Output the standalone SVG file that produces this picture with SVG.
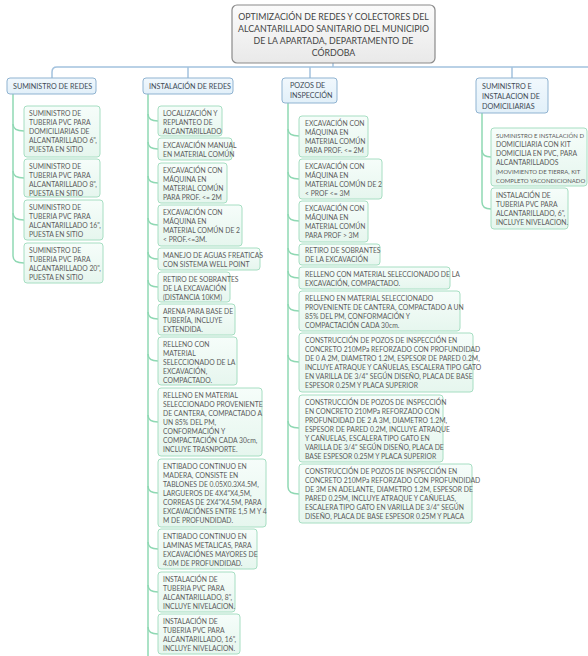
<svg xmlns="http://www.w3.org/2000/svg" width="588" height="656" viewBox="0 0 588 656">
<defs>
<linearGradient id="gRoot" x1="0" y1="0" x2="0" y2="1"><stop offset="0" stop-color="#fbfbfb"/><stop offset="1" stop-color="#e9e9e9"/></linearGradient>
<linearGradient id="gL1" x1="0" y1="0" x2="0" y2="1"><stop offset="0" stop-color="#f1f8fd"/><stop offset="1" stop-color="#e2f0f9"/></linearGradient>
<linearGradient id="gL2" x1="0" y1="0" x2="0" y2="1"><stop offset="0" stop-color="#f6fdfa"/><stop offset="1" stop-color="#e6f6ee"/></linearGradient>
</defs>
<style>
text{font-family:Lato,"Liberation Sans",sans-serif}
.root{fill:url(#gRoot);stroke:#8a8a8a;stroke-width:1.2}
.rt{font-size:8.8px;fill:#444;text-anchor:middle}
.l1{fill:url(#gL1);stroke:#8fb3d1;stroke-width:1}
.l1t{font-size:7.2px;fill:#3e4a55}
.l2{fill:url(#gL2);stroke:#a6dec2;stroke-width:1}
.l2t{font-size:6.8px;fill:#5c5c5c}
.l2s{font-size:6px;fill:#5c5c5c}
.cb{fill:none;stroke:#a3c2de;stroke-width:1.5}
.cg{fill:none;stroke:#8fd8b3;stroke-width:1.5}
</style>
<g id="connectors">
<path class="cb" d="M333,63 V67"/>
<path class="cb" d="M52,78 V72 Q52,67 57,67 H588"/>
<path class="cb" d="M188,67 V78"/>
<path class="cb" d="M310,67 V78"/>
<path class="cb" d="M512,67 V78"/>
<path class="cg" d="M13,94 V256"/>
<path class="cg" d="M13,124 Q13,131 24,131"/>
<path class="cg" d="M13,171 Q13,178 24,178"/>
<path class="cg" d="M13,213 Q13,220 24,220"/>
<path class="cg" d="M13,256 Q13,263 24,263"/>
<path class="cg" d="M148,94 V656"/>
<path class="cg" d="M148,114 Q148,121 158,121"/>
<path class="cg" d="M148,142 Q148,149 158,149"/>
<path class="cg" d="M148,176 Q148,183 158,183"/>
<path class="cg" d="M148,218 Q148,225 158,225"/>
<path class="cg" d="M148,252 Q148,259 158,259"/>
<path class="cg" d="M148,280 Q148,287 158,287"/>
<path class="cg" d="M148,312 Q148,319 158,319"/>
<path class="cg" d="M148,354 Q148,361 158,361"/>
<path class="cg" d="M148,415 Q148,422 158,422"/>
<path class="cg" d="M148,486 Q148,493 158,493"/>
<path class="cg" d="M148,542 Q148,549 158,549"/>
<path class="cg" d="M148,585 Q148,592 158,592"/>
<path class="cg" d="M148,627 Q148,634 158,634"/>
<path class="cg" d="M288,103 V487"/>
<path class="cg" d="M288,129 Q288,136 299,136"/>
<path class="cg" d="M288,172 Q288,179 299,179"/>
<path class="cg" d="M288,214 Q288,221 299,221"/>
<path class="cg" d="M288,248 Q288,255 299,255"/>
<path class="cg" d="M288,271 Q288,278 299,278"/>
<path class="cg" d="M288,304 Q288,311 299,311"/>
<path class="cg" d="M288,355 Q288,362 299,362"/>
<path class="cg" d="M288,421 Q288,428 299,428"/>
<path class="cg" d="M288,487 Q288,494 299,494"/>
<path class="cg" d="M482,113 V202"/>
<path class="cg" d="M482,150 Q482,157 491,157"/>
<path class="cg" d="M482,202 Q482,209 491,209"/>
</g>
<g id="root">
<rect class="root" x="232" y="5" width="203" height="58" rx="5"/>
<text class="rt" x="333.5" y="19.5">OPTIMIZACIÓN DE REDES Y COLECTORES DEL<tspan x="333.5" dy="12">ALCANTARILLADO SANITARIO DEL MUNICIPIO</tspan><tspan x="333.5" dy="12">DE LA APARTADA, DEPARTAMENTO DE</tspan><tspan x="333.5" dy="12">CÓRDOBA</tspan></text>
</g>
<g id="suministro-redes">
<rect class="l1" x="7" y="78" width="89" height="16" rx="3"/>
<text class="l1t" x="13" y="88.8">SUMINISTRO DE REDES</text>
</g>
<g id="instalacion-redes">
<rect class="l1" x="143" y="78" width="90" height="16" rx="3"/>
<text class="l1t" x="149" y="88.8">INSTALACIÓN DE REDES</text>
</g>
<g id="pozos">
<rect class="l1" x="282" y="78" width="55" height="25" rx="3"/>
<text class="l1t" x="290" y="88">POZOS DE<tspan x="290" dy="9.5">INSPECCIÓN</tspan></text>
</g>
<g id="domiciliarias">
<rect class="l1" x="476" y="78" width="72" height="35" rx="3"/>
<text class="l1t" x="482" y="89">SUMINISTRO E<tspan x="482" dy="10">INSTALACION DE</tspan><tspan x="482" dy="10">DOMICILIARIAS</tspan></text>
</g>
<g id="a1"><rect class="l2" x="24" y="106" width="76" height="51" rx="3"/>
<text class="l2t" x="29" y="115.5">SUMINISTRO DE<tspan x="29" dy="9">TUBERIA PVC PARA</tspan><tspan x="29" dy="9">DOMICILIARIAS DE</tspan><tspan x="29" dy="9">ALCANTARILLADO 6",</tspan><tspan x="29" dy="9">PUESTA EN SITIO</tspan></text></g>
<g id="a2"><rect class="l2" x="24" y="159" width="76" height="38" rx="3"/>
<text class="l2t" x="29" y="168.5">SUMINISTRO DE<tspan x="29" dy="9">TUBERIA PVC PARA</tspan><tspan x="29" dy="9">ALCANTARILLADO 8",</tspan><tspan x="29" dy="9">PUESTA EN SITIO</tspan></text></g>
<g id="a3"><rect class="l2" x="24" y="200" width="79" height="40" rx="3"/>
<text class="l2t" x="29" y="209.5">SUMINISTRO DE<tspan x="29" dy="9">TUBERIA PVC PARA</tspan><tspan x="29" dy="9">ALCANTARILLADO 16",</tspan><tspan x="29" dy="9">PUESTA EN SITIO</tspan></text></g>
<g id="a4"><rect class="l2" x="24" y="243" width="79" height="40" rx="3"/>
<text class="l2t" x="29" y="252.5">SUMINISTRO DE<tspan x="29" dy="9">TUBERIA PVC PARA</tspan><tspan x="29" dy="9">ALCANTARILLADO 20",</tspan><tspan x="29" dy="9">PUESTA EN SITIO</tspan></text></g>
<g id="c1"><rect class="l2" x="158" y="106" width="64" height="30" rx="3"/>
<text class="l2t" x="163" y="115.5">LOCALIZACIÓN Y<tspan x="163" dy="9">REPLANTEO DE</tspan><tspan x="163" dy="9">ALCANTARILLADO</tspan></text></g>
<g id="c2"><rect class="l2" x="158" y="138" width="74" height="22" rx="3"/>
<text class="l2t" x="163" y="147.5">EXCAVACIÓN MANUAL<tspan x="163" dy="9">EN MATERIAL COMÚN</tspan></text></g>
<g id="c3"><rect class="l2" x="158" y="163" width="69" height="40" rx="3"/>
<text class="l2t" x="163" y="172.5">EXCAVACIÓN CON<tspan x="163" dy="9">MÁQUINA EN</tspan><tspan x="163" dy="9">MATERIAL COMÚN</tspan><tspan x="163" dy="9">PARA PROF. &lt;= 2M</tspan></text></g>
<g id="c4"><rect class="l2" x="158" y="205" width="84" height="41" rx="3"/>
<text class="l2t" x="163" y="214.5">EXCAVACIÓN CON<tspan x="163" dy="9">MÁQUINA EN</tspan><tspan x="163" dy="9">MATERIAL COMÚN DE 2</tspan><tspan x="163" dy="9">&lt; PROF.&lt;=3M.</tspan></text></g>
<g id="c5"><rect class="l2" x="158" y="248" width="102" height="22" rx="3"/>
<text class="l2t" x="163" y="257.5">MANEJO DE AGUAS FREATICAS<tspan x="163" dy="9">CON SISTEMA WELL POINT</tspan></text></g>
<g id="c6"><rect class="l2" x="158" y="272" width="72" height="30" rx="3"/>
<text class="l2t" x="163" y="281.5">RETIRO DE SOBRANTES<tspan x="163" dy="9">DE LA EXCAVACIÓN</tspan><tspan x="163" dy="9">(DISTANCIA 10KM)</tspan></text></g>
<g id="c7"><rect class="l2" x="158" y="304" width="77" height="31" rx="3"/>
<text class="l2t" x="163" y="313.5">ARENA PARA BASE DE<tspan x="163" dy="9">TUBERÍA, INCLUYE</tspan><tspan x="163" dy="9">EXTENDIDA.</tspan></text></g>
<g id="c8"><rect class="l2" x="158" y="337" width="79" height="48" rx="3"/>
<text class="l2t" x="163" y="346.5">RELLENO CON<tspan x="163" dy="9">MATERIAL</tspan><tspan x="163" dy="9">SELECCIONADO DE LA</tspan><tspan x="163" dy="9">EXCAVACIÓN,</tspan><tspan x="163" dy="9">COMPACTADO.</tspan></text></g>
<g id="c9"><rect class="l2" x="158" y="388" width="104" height="68" rx="3"/>
<text class="l2t" x="163" y="397.5">RELLENO EN MATERIAL<tspan x="163" dy="9">SELECCIONADO PROVENIENTE</tspan><tspan x="163" dy="9">DE CANTERA, COMPACTADO A</tspan><tspan x="163" dy="9">UN 85% DEL PM,</tspan><tspan x="163" dy="9">CONFORMACIÓN Y</tspan><tspan x="163" dy="9">COMPACTACIÓN CADA 30cm,</tspan><tspan x="163" dy="9">INCLUYE TRASNPORTE.</tspan></text></g>
<g id="c10"><rect class="l2" x="158" y="459" width="108" height="68" rx="3"/>
<text class="l2t" x="163" y="468.5">ENTIBADO CONTINUO EN<tspan x="163" dy="9">MADERA, CONSISTE EN</tspan><tspan x="163" dy="9">TABLONES DE 0.05X0.3X4.5M,</tspan><tspan x="163" dy="9">LARGUEROS DE 4X4"X4,5M,</tspan><tspan x="163" dy="9">CORREAS DE 2X4"X4.5M, PARA</tspan><tspan x="163" dy="9">EXCAVACIÓNES ENTRE 1,5 M Y 4</tspan><tspan x="163" dy="9">M DE PROFUNDIDAD.</tspan></text></g>
<g id="c11"><rect class="l2" x="158" y="529" width="99" height="40" rx="3"/>
<text class="l2t" x="163" y="538.5">ENTIBADO CONTINUO EN<tspan x="163" dy="9">LAMINAS METALICAS, PARA</tspan><tspan x="163" dy="9">EXCAVACIÓNES MAYORES DE</tspan><tspan x="163" dy="9">4.0M DE PROFUNDIDAD.</tspan></text></g>
<g id="c12"><rect class="l2" x="158" y="572" width="77" height="40" rx="3"/>
<text class="l2t" x="163" y="581.5">INSTALACIÓN DE<tspan x="163" dy="9">TUBERIA PVC PARA</tspan><tspan x="163" dy="9">ALCANTARILLADO, 8",</tspan><tspan x="163" dy="9">INCLUYE NIVELACION.</tspan></text></g>
<g id="c13"><rect class="l2" x="158" y="614" width="82" height="40" rx="3"/>
<text class="l2t" x="163" y="623.5">INSTALACIÓN DE<tspan x="163" dy="9">TUBERIA PVC PARA</tspan><tspan x="163" dy="9">ALCANTARILLADO, 16",</tspan><tspan x="163" dy="9">INCLUYE NIVELACION.</tspan></text></g>
<g id="p1"><rect class="l2" x="299" y="116" width="69" height="41" rx="3"/>
<text class="l2t" x="305" y="125.5">EXCAVACIÓN CON<tspan x="305" dy="9">MÁQUINA EN</tspan><tspan x="305" dy="9">MATERIAL COMÚN</tspan><tspan x="305" dy="9">PARA PROF. &lt;= 2M</tspan></text></g>
<g id="p2"><rect class="l2" x="299" y="159" width="83" height="40" rx="3"/>
<text class="l2t" x="305" y="168.5">EXCAVACIÓN CON<tspan x="305" dy="9">MÁQUINA EN</tspan><tspan x="305" dy="9">MATERIAL COMÚN DE 2</tspan><tspan x="305" dy="9">&lt; PROF &lt;= 3M</tspan></text></g>
<g id="p3"><rect class="l2" x="299" y="201" width="69" height="41" rx="3"/>
<text class="l2t" x="305" y="210.5">EXCAVACIÓN CON<tspan x="305" dy="9">MÁQUINA EN</tspan><tspan x="305" dy="9">MATERIAL COMÚN</tspan><tspan x="305" dy="9">PARA PROF &gt; 3M</tspan></text></g>
<g id="p4"><rect class="l2" x="299" y="244" width="81" height="21" rx="3"/>
<text class="l2t" x="305" y="253">RETIRO DE SOBRANTES<tspan x="305" dy="9">DE LA EXCAVACIÓN</tspan></text></g>
<g id="p5"><rect class="l2" x="299" y="267" width="151" height="22" rx="3"/>
<text class="l2t" x="305" y="276.5">RELLENO CON MATERIAL SELECCIONADO DE LA<tspan x="305" dy="9">EXCAVACIÓN, COMPACTADO.</tspan></text></g>
<g id="p6"><rect class="l2" x="299" y="291" width="161" height="40" rx="3"/>
<text class="l2t" x="305" y="300.5">RELLENO EN MATERIAL SELECCIONADO<tspan x="305" dy="9">PROVENIENTE DE CANTERA, COMPACTADO A UN</tspan><tspan x="305" dy="9">85% DEL PM, CONFORMACIÓN Y</tspan><tspan x="305" dy="9">COMPACTACIÓN CADA 30cm.</tspan></text></g>
<g id="p7"><rect class="l2" x="299" y="333" width="174" height="59" rx="3"/>
<text class="l2t" x="305" y="342.5">CONSTRUCCIÓN DE POZOS DE INSPECCIÓN EN<tspan x="305" dy="9">CONCRETO 210MPa REFORZADO CON PROFUNDIDAD</tspan><tspan x="305" dy="9">DE 0 A 2M, DIAMETRO 1.2M, ESPESOR DE PARED 0.2M,</tspan><tspan x="305" dy="9">INCLUYE ATRAQUE Y CAÑUELAS, ESCALERA TIPO GATO</tspan><tspan x="305" dy="9">EN VARILLA DE 3/4" SEGÚN DISEÑO, PLACA DE BASE</tspan><tspan x="305" dy="9">ESPESOR 0.25M Y PLACA SUPERIOR</tspan></text></g>
<g id="p8"><rect class="l2" x="299" y="395" width="144" height="67" rx="3"/>
<text class="l2t" x="305" y="404.5">CONSTRUCCIÓN DE POZOS DE INSPECCIÓN<tspan x="305" dy="9">EN CONCRETO 210MPa REFORZADO CON</tspan><tspan x="305" dy="9">PROFUNDIDAD DE 2 A 3M, DIAMETRO 1.2M,</tspan><tspan x="305" dy="9">ESPESOR DE PARED 0.2M, INCLUYE ATRAQUE</tspan><tspan x="305" dy="9">Y CAÑUELAS, ESCALERA TIPO GATO EN</tspan><tspan x="305" dy="9">VARILLA DE 3/4" SEGÚN DISEÑO, PLACA DE</tspan><tspan x="305" dy="9">BASE ESPESOR 0.25M Y PLACA SUPERIOR</tspan></text></g>
<g id="p9"><rect class="l2" x="299" y="464" width="173" height="59" rx="3"/>
<text class="l2t" x="305" y="473.5">CONSTRUCCIÓN DE POZOS DE INSPECCIÓN EN<tspan x="305" dy="9">CONCRETO 210MPa REFORZADO CON PROFUNDIDAD</tspan><tspan x="305" dy="9">DE 3M EN ADELANTE, DIAMETRO 1.2M, ESPESOR DE</tspan><tspan x="305" dy="9">PARED 0.25M, INCLUYE ATRAQUE Y CAÑUELAS,</tspan><tspan x="305" dy="9">ESCALERA TIPO GATO EN VARILLA DE 3/4" SEGÚN</tspan><tspan x="305" dy="9">DISEÑO, PLACA DE BASE ESPESOR 0.25M Y PLACA</tspan></text></g>
<g id="d1"><rect class="l2" x="491" y="128" width="96" height="58" rx="3"/>
<text class="l2s" x="496" y="137.5">SUMINISTRO E INSTALACIÓN D</text>
<text class="l2t" x="496" y="146.5">DOMICILIARIA CON KIT</text>
<text class="l2t" x="496" y="155.5">DOMICILIA EN PVC, PARA</text>
<text class="l2t" x="496" y="164.5">ALCANTARILLADOS</text>
<text class="l2s" x="496" y="173.5">(MOVIMIENTO DE TIERRA, KIT</text>
<text class="l2s" x="496" y="182.5">COMPLETO YACONDICIONADO</text></g>
<g id="d2"><rect class="l2" x="491" y="188" width="77" height="41" rx="3"/>
<text class="l2t" x="496" y="197.5">INSTALACIÓN DE<tspan x="496" dy="9">TUBERIA PVC PARA</tspan><tspan x="496" dy="9">ALCANTARILLADO, 6",</tspan><tspan x="496" dy="9">INCLUYE NIVELACION.</tspan></text></g>
</svg>
